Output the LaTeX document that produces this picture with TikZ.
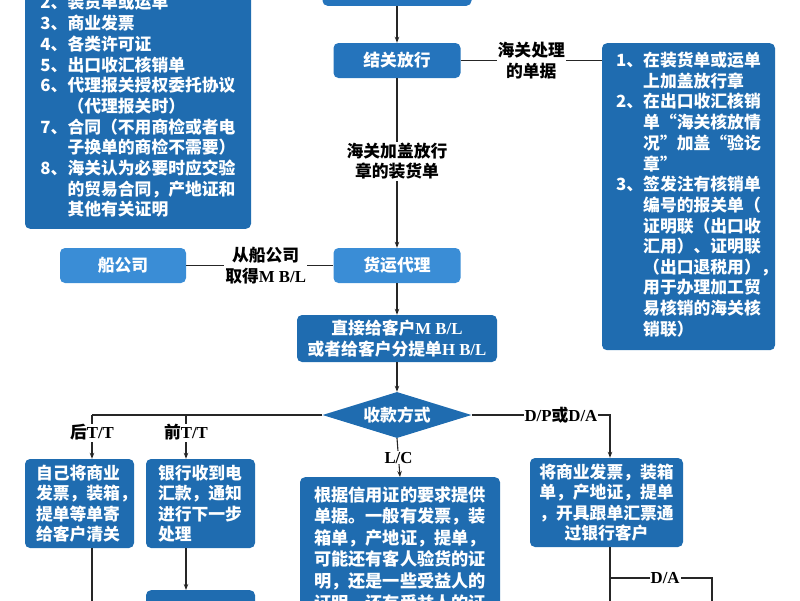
\documentclass[tikz,border=0pt]{standalone}
\usepackage{fontspec}
\newfontfamily\cjk{Noto Sans CJK SC}
\newfontfamily\latf{Liberation Serif}
\usetikzlibrary{arrows.meta}
\usetikzlibrary{shapes.geometric}
\definecolor{boxblue}{HTML}{1F6CB0}
\definecolor{midblue}{HTML}{2574BC}
\definecolor{lightblue}{HTML}{3A8DD6}
\newcommand{\lat}[1]{{\latf\bfseries #1}}

\begin{document}
\begin{tikzpicture}[x=1pt,y=-1pt,
    box/.style={rectangle,rounded corners=5pt,fill=boxblue,text=white,inner sep=0pt,
      font=\cjk\bfseries\fontsize{16.8}{20.5}\selectfont},
    lbl/.style={fill=white,inner sep=1pt,align=center,
      font=\cjk\bfseries\fontsize{16.8}{20.5}\selectfont},
    line/.style={draw=black!85,line width=1.1pt},
    arr/.style={line,-{Stealth[length=6pt,width=4.5pt]}}]

    \useasboundingbox (0,0) rectangle (800,600);

    % centre column
    \node[box,fill=midblue,minimum width=149pt,minimum height=40pt,anchor=south] (shenbao) at (397,6) {};
    \node[box,fill=midblue,minimum width=127pt,minimum height=35pt] (jieguan) at (397,60.5) {结关放行};
    \node[box,fill=lightblue,minimum width=127pt,minimum height=35pt] (huoyun) at (397,265.5) {货运代理};
    \node[box,minimum width=200pt,minimum height=47pt,align=center] (kehu) at (397,338.5)
        {直接给客户\lat{M B/L}\\或者给客户分提单\lat{H B/L}};
    \node[box,diamond,sharp corners,aspect=3.2,minimum width=149pt,minimum height=46pt] (shoukuan) at (397,415) {收款方式};

    % side boxes
    \node[box,minimum width=226pt,inner xsep=14pt,inner ysep=7pt,anchor=south] (danju) at (138,229)
        {\begin{tabular}{@{}l@{}l@{}}
        2、&装货单或运单\\
        3、&商业发票\\
        4、&各类许可证\\
        5、&出口收汇核销单\\
        6、&代理报关授权委托协议\\
           &（代理报关时）\\
        7、&合同（不用商检或者电\\
           &子换单的商检不需要）\\
        8、&海关认为必要时应交验\\
           &的贸易合同，产地证和\\
           &其他有关证明
        \end{tabular}};
    \node[box,minimum width=173pt,minimum height=307pt,anchor=north] (fangxing) at (688.5,43)
        {\begin{tabular}{@{}l@{}l@{}}
        1、&在装货单或运单\\
           &上加盖放行章\\
        2、&在出口收汇核销\\
           &单“海关核放情\\
           &况”加盖“验讫\\
           &章”\\
        3、&签发注有核销单\\
           &编号的报关单（\\
           &证明联（出口收\\
           &汇用）、证明联\\
           &（出口退税用）\rlap{，}\\
           &用于办理加工贸\\
           &易核销的海关核\\
           &销联）
        \end{tabular}};
    \node[box,fill=lightblue,minimum width=126pt,minimum height=35pt] (chuan) at (123,265.5) {船公司};

    % payment boxes
    \node[box,minimum height=89pt,text width=87pt,inner xsep=11pt,align=left] (ziji) at (79.5,503.5)
        {自己将商业\\发票，装箱\rlap{，}\\提单等单寄\\给客户清关};
    \node[box,minimum height=89pt,text width=85pt,inner xsep=12pt,align=left] (yinhang) at (200.5,503.5)
        {银行收到电\\汇款，通知\\进行下一步\\处理};
    \node[box,minimum width=109pt,minimum height=40pt,anchor=north] (xiayibu) at (200.5,590) {};
    \node[box,text width=172pt,inner xsep=14pt,inner ysep=9pt,anchor=north,align=left,
        font=\cjk\bfseries\fontsize{17.2}{21.6}\selectfont] (xinyong) at (400,477)
        {根据信用证的要求提供\\单据。一般有发票，装\\箱单，产地证，提单，\\可能还有客人验货的证\\明，还是一些受益人的\\证明，还有受益人的证};
    \node[box,minimum width=153pt,minimum height=89pt,align=center] (jiang) at (606.5,502.5)
        {将商业发票，装箱\\单，产地证，提单\\，开具跟单汇票通\\过银行客户};

    % turning points and open ends
    \coordinate (houtt) at (92,415);
    \coordinate (qiantt) at (186,415);
    \coordinate (dpdp) at (610,415);
    \coordinate (dafen) at (610,578);
    \coordinate (houend) at (92,610);
    \coordinate (dpend) at (610,610);
    \coordinate (daend) at (712,610);

    \draw[arr] (shenbao) -- (jieguan);
    \draw[line] (jieguan.east) -- (jieguan.east -| fangxing.west)
        node[lbl,midway] {海关处理\\的单据};
    \draw[arr] (jieguan) -- (huoyun) node[lbl,pos=0.49] {海关加盖放行\\章的装货单};
    \draw[line] (chuan) -- (huoyun) node[lbl,pos=0.54] {从船公司\\取得\lat{M B/L}};
    \draw[arr] (huoyun) -- (kehu);
    \draw[arr] (kehu) -- (shoukuan);

    \draw[line] (shoukuan.west) -- (houtt);
    \draw[arr] (houtt) -- (houtt |- ziji.north) node[lbl,pos=0.4] {后\lat{T/T}};
    \draw[arr] (qiantt) -- (qiantt |- yinhang.north) node[lbl,pos=0.4] {前\lat{T/T}};
    \draw[arr] (shoukuan.south) -- (xinyong.north) node[lbl,midway] {\lat{L/C}};
    \draw[arr] (shoukuan.east) -- node[lbl,pos=0.645] {\lat{D/P}或\lat{D/A}} (dpdp) -- (dpdp |- jiang.north);

    \draw[line] (ziji.south -| houend) -- (houend);
    \draw[arr] (yinhang.south -| qiantt) -- (xiayibu.north -| qiantt);
    \draw[line] (jiang.south -| dpend) -- (dpend);
    \draw[line] (dafen) -- node[lbl,pos=0.54] {\lat{D/A}} (dafen -| daend) -- (daend);
\end{tikzpicture}
\end{document}
